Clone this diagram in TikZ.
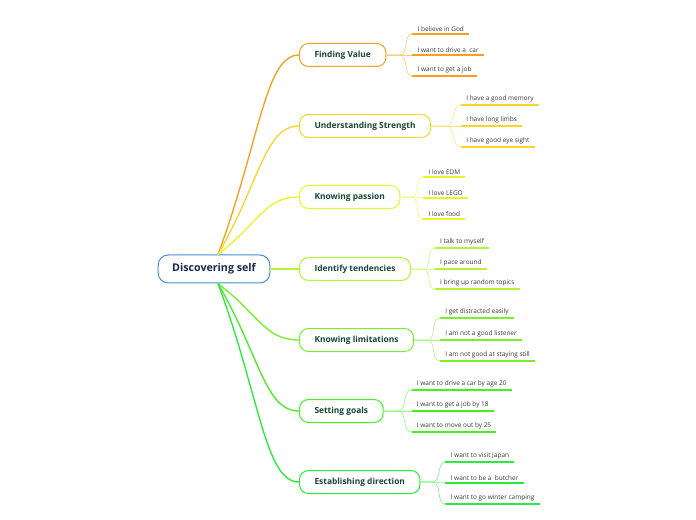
\documentclass[tikz,border=0pt]{standalone}
\usepackage{fontspec}
\setmainfont{Open Sans}
\usetikzlibrary{calc}
\definecolor{cRoot}{RGB}{74,143,208}
\definecolor{cRootTxt}{RGB}{22,40,78}
\definecolor{cBrTxt}{RGB}{22,70,52}
\definecolor{cLeafTxt}{RGB}{55,55,55}
\definecolor{cFV}{RGB}{247,160,30}
\definecolor{cUS}{RGB}{248,214,40}
\definecolor{cKP}{RGB}{232,244,40}
\definecolor{cIT}{RGB}{180,245,50}
\definecolor{cKL}{RGB}{120,240,40}
\definecolor{cSG}{RGB}{70,240,30}
\definecolor{cED}{RGB}{40,235,60}
\begin{document}
\begin{tikzpicture}[x=0.75pt,y=0.75pt,yscale=-1,xscale=1,
	rootbox/.style={draw=cRoot,line width=0.75pt,fill=white,rounded corners=7.5pt,minimum height=21pt,inner xsep=10.5pt,font=\fontsize{8}{9}\selectfont\bfseries,text=cRootTxt},
	branch/.style={draw=#1,line width=0.75pt,fill=white,rounded corners=6.75pt,minimum height=17.25pt,inner xsep=11.25pt,font=\fontsize{6.3}{7.3}\selectfont\bfseries,text=cBrTxt},
	leaf/.style={inner xsep=3.75pt,inner ysep=1.8pt,font=\fontsize{4.85}{5.8}\selectfont,text=cLeafTxt},
	trunk/.style={draw=#1,line width=1pt},
	twig/.style={draw=#1!55,line width=0.5pt},
	leafline/.style={draw=#1,line width=1pt}]
	\useasboundingbox (0,0) rectangle (696,520);
	
	%Shape: Root
	\node[rootbox] (root) at (214,269) {Discovering self};
	\coordinate (rt) at ([xshift=3]root.north);
	\coordinate (rb) at ([xshift=3]root.south);
	
	%Shape: Branches
	\node[branch=cFV,anchor=west] (fv) at (299,55) {Finding Value};
	\node[branch=cUS,anchor=west] (us) at (299,126) {Understanding Strength};
	\node[branch=cKP,anchor=west] (kp) at (299,197) {Knowing passion};
	\node[branch=cIT,anchor=west] (it) at (299,269) {Identify tendencies};
	\node[branch=cKL,anchor=west] (kl) at (299,340) {Knowing limitations};
	\node[branch=cSG,anchor=west] (sg) at (299,411) {Setting goals};
	\node[branch=cED,anchor=west] (ed) at (299,482) {Establishing direction};
	
	%Curve Lines: root to branches
	\draw[trunk=cFV] (rt) .. controls ($(rt)!0.57!(rt |- fv.west) + (42,0)$) and ($(fv.west) + (-34,0)$) .. (fv.west);
	\draw[trunk=cUS] (rt) .. controls ($(rt)!0.57!(rt |- us.west) + (42,0)$) and ($(us.west) + (-34,0)$) .. (us.west);
	\draw[trunk=cKP] (rt) .. controls ($(rt)!0.57!(rt |- kp.west) + (42,0)$) and ($(kp.west) + (-34,0)$) .. (kp.west);
	\draw[trunk=cIT] (root.east) -- (it.west);
	\draw[trunk=cKL] (rb) .. controls ($(rb)!0.57!(rb |- kl.west) + (42,0)$) and ($(kl.west) + (-34,0)$) .. (kl.west);
	\draw[trunk=cSG] (rb) .. controls ($(rb)!0.57!(rb |- sg.west) + (42,0)$) and ($(sg.west) + (-34,0)$) .. (sg.west);
	\draw[trunk=cED] (rb) .. controls ($(rb)!0.57!(rb |- ed.west) + (42,0)$) and ($(ed.west) + (-34,0)$) .. (ed.west);
	
	% Text Node: Finding Value
	\node[leaf,anchor=south west] (fv1) at ([shift={(26,-21)}]fv.east) {I believe in God};
	\node[leaf,anchor=south west] (fv2) at ([shift={(26,0)}]fv.east) {I want to drive a\ \ car};
	\node[leaf,anchor=south west] (fv3) at ([shift={(26,21)}]fv.east) {I want to get a job};
	% Text Node: Understanding Strength
	\node[leaf,anchor=south west] (us1) at ([shift={(30,-21)}]us.east) {I have a good memory};
	\node[leaf,anchor=south west] (us2) at ([shift={(30,0)}]us.east) {I have long limbs};
	\node[leaf,anchor=south west] (us3) at ([shift={(30,21)}]us.east) {I have good eye sight};
	% Text Node: Knowing passion
	\node[leaf,anchor=south west] (kp1) at ([shift={(23,-20)}]kp.east) {I love EDM};
	\node[leaf,anchor=south west] (kp2) at ([shift={(23,1)}]kp.east) {I love LEGO};
	\node[leaf,anchor=south west] (kp3) at ([shift={(23,22)}]kp.east) {I love food};
	% Text Node: Identify tendencies
	\node[leaf,anchor=south west] (it1) at ([shift={(24,-21)}]it.east) {I talk to myself};
	\node[leaf,anchor=south west] (it2) at ([shift={(24,0)}]it.east) {I pace around};
	\node[leaf,anchor=south west] (it3) at ([shift={(24,20)}]it.east) {I bring up random topics};
	% Text Node: Knowing limitations
	\node[leaf,anchor=south west] (kl1) at ([shift={(26,-22)}]kl.east) {I get distracted easily};
	\node[leaf,anchor=south west] (kl2) at ([shift={(26,0)}]kl.east) {I am not a good listener};
	\node[leaf,anchor=south west] (kl3) at ([shift={(26,21)}]kl.east) {I am not good at staying still};
	% Text Node: Setting goals
	\node[leaf,anchor=south west] (sg1) at ([shift={(28,-21)}]sg.east) {I want to drive a car by age 20};
	\node[leaf,anchor=south west] (sg2) at ([shift={(28,0)}]sg.east) {I want to get a job by 18};
	\node[leaf,anchor=south west] (sg3) at ([shift={(28,21)}]sg.east) {I want to move out by 25};
	% Text Node: Establishing direction
	\node[leaf,anchor=south west] (ed1) at ([shift={(25,-20)}]ed.east) {I want to visit Japan};
	\node[leaf,anchor=south west] (ed2) at ([shift={(25,1)}]ed.east) {I want to be a\ \ butcher};
	\node[leaf,anchor=south west] (ed3) at ([shift={(25,22)}]ed.east) {I want to go winter camping};
	
	%Straight Lines: leaf underlines and twigs
	\draw[leafline=cFV] (fv1.south west) -- (fv1.south east);
	\draw[leafline=cFV] (fv2.south west) -- (fv2.south east);
	\draw[leafline=cFV] (fv3.south west) -- (fv3.south east);
	\draw[twig=cFV] (fv.east) -- ++(13,0) to[out=0,in=180] (fv1.south west);
	\draw[twig=cFV] (fv.east) -- (fv2.south west);
	\draw[twig=cFV] (fv.east) -- ++(13,0) to[out=0,in=180] (fv3.south west);
	
	\draw[leafline=cUS] (us1.south west) -- (us1.south east);
	\draw[leafline=cUS] (us2.south west) -- (us2.south east);
	\draw[leafline=cUS] (us3.south west) -- (us3.south east);
	\draw[twig=cUS] (us.east) -- ++(15,0) to[out=0,in=180] (us1.south west);
	\draw[twig=cUS] (us.east) -- (us2.south west);
	\draw[twig=cUS] (us.east) -- ++(15,0) to[out=0,in=180] (us3.south west);
	
	\draw[leafline=cKP] (kp1.south west) -- (kp1.south east);
	\draw[leafline=cKP] (kp2.south west) -- (kp2.south east);
	\draw[leafline=cKP] (kp3.south west) -- (kp3.south east);
	\draw[twig=cKP] (kp.east) -- ++(11,0) to[out=0,in=180] (kp1.south west);
	\draw[twig=cKP] (kp.east) -- ++(11,0) to[out=0,in=180] (kp2.south west);
	\draw[twig=cKP] (kp.east) -- ++(11,0) to[out=0,in=180] (kp3.south west);
	
	\draw[leafline=cIT] (it1.south west) -- (it1.south east);
	\draw[leafline=cIT] (it2.south west) -- (it2.south east);
	\draw[leafline=cIT] (it3.south west) -- (it3.south east);
	\draw[twig=cIT] (it.east) -- ++(12,0) to[out=0,in=180] (it1.south west);
	\draw[twig=cIT] (it.east) -- (it2.south west);
	\draw[twig=cIT] (it.east) -- ++(12,0) to[out=0,in=180] (it3.south west);
	
	\draw[leafline=cKL] (kl1.south west) -- (kl1.south east);
	\draw[leafline=cKL] (kl2.south west) -- (kl2.south east);
	\draw[leafline=cKL] (kl3.south west) -- (kl3.south east);
	\draw[twig=cKL] (kl.east) -- ++(13,0) to[out=0,in=180] (kl1.south west);
	\draw[twig=cKL] (kl.east) -- (kl2.south west);
	\draw[twig=cKL] (kl.east) -- ++(13,0) to[out=0,in=180] (kl3.south west);
	
	\draw[leafline=cSG] (sg1.south west) -- (sg1.south east);
	\draw[leafline=cSG] (sg2.south west) -- (sg2.south east);
	\draw[leafline=cSG] (sg3.south west) -- (sg3.south east);
	\draw[twig=cSG] (sg.east) -- ++(14,0) to[out=0,in=180] (sg1.south west);
	\draw[twig=cSG] (sg.east) -- (sg2.south west);
	\draw[twig=cSG] (sg.east) -- ++(14,0) to[out=0,in=180] (sg3.south west);
	
	\draw[leafline=cED] (ed1.south west) -- (ed1.south east);
	\draw[leafline=cED] (ed2.south west) -- (ed2.south east);
	\draw[leafline=cED] (ed3.south west) -- (ed3.south east);
	\draw[twig=cED] (ed.east) -- ++(12,0) to[out=0,in=180] (ed1.south west);
	\draw[twig=cED] (ed.east) -- ++(12,0) to[out=0,in=180] (ed2.south west);
	\draw[twig=cED] (ed.east) -- ++(12,0) to[out=0,in=180] (ed3.south west);
	
\end{tikzpicture}
\end{document}
